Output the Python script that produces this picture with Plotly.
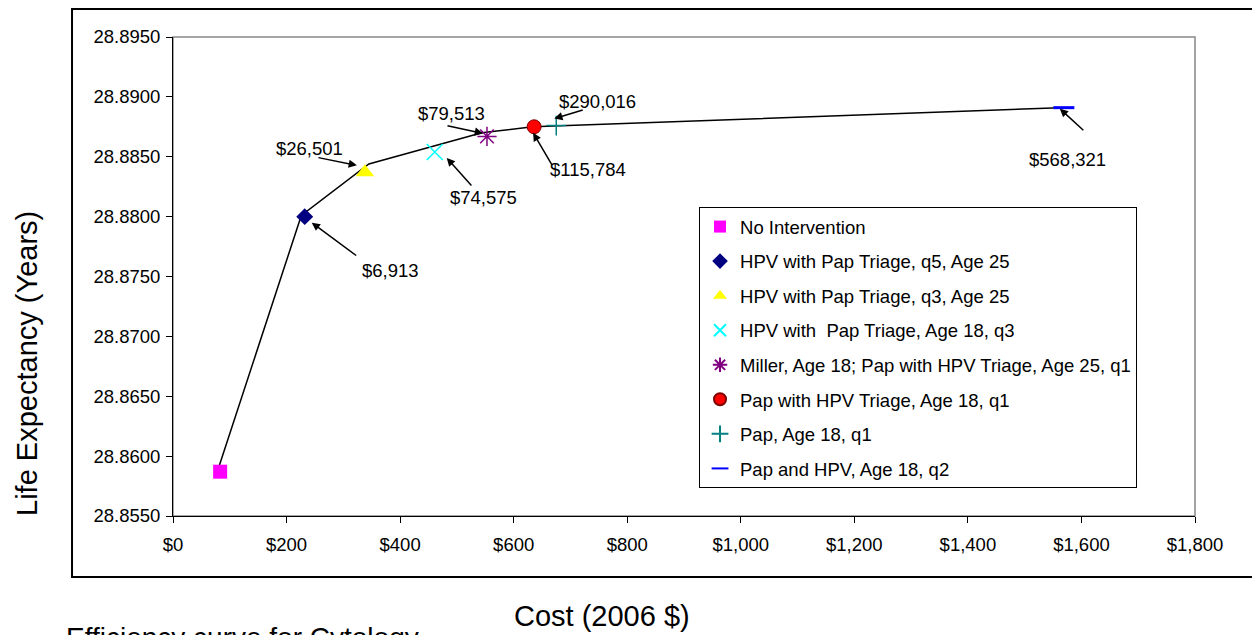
import plotly.graph_objects as go

# ---- data ----
strategies = [
    "No Intervention",
    "HPV with Pap Triage, q5, Age 25",
    "HPV with Pap Triage, q3, Age 25",
    "HPV with  Pap Triage, Age 18, q3",
    "Miller, Age 18; Pap with HPV Triage, Age 25, q1",
    "Pap with HPV Triage, Age 18, q1",
    "Pap, Age 18, q1",
    "Pap and HPV, Age 18, q2",
]
cost = [83, 232, 338, 461, 553, 636, 675, 1569]
life_exp = [28.8587, 28.8800, 28.8837, 28.8854, 28.8867, 28.8875, 28.8876, 28.8891]

frontier_cost = [78, 226, 345, 544, 634, 1562]
frontier_le = [28.8587, 28.8801, 28.8844, 28.8870, 28.8875, 28.8891]

icer_labels = ["$6,913", "$26,501", "$74,575", "$79,513", "$115,784", "$290,016", "$568,321"]
icer_point = [1, 2, 3, 4, 5, 6, 7]

x_ticks = [0, 200, 400, 600, 800, 1000, 1200, 1400, 1600, 1800]
x_tick_text = ["$0", "$200", "$400", "$600", "$800", "$1,000", "$1,200", "$1,400", "$1,600", "$1,800"]
y_ticks = [28.855, 28.860, 28.865, 28.870, 28.875, 28.880, 28.885, 28.890, 28.895]

# ---- styles ----
symbols = ["square", "diamond", "triangle-up", "x-thin", "asterisk", "circle", "cross-thin", "line-ew"]
colors = ["#FF00FF", "#000080", "#FFFF00", "#00FFFF", "#800080", "#FF0000", "#008080", "#0000FF"]
sizes = [14, 13, 16, 16, 16, 14, 14, 15]

# arrow: head shift (dx, dy down), tail offset from head (ax, ay down); text offset (dx, dy down)
arrow_head = [(7, 6), (-8, -7), (12, 6), (-4, -3), (-1, 6), (-2, -7), (-4, 1)]
arrow_tail = [(46, 34), (-40, -8), (26, 29), (-37, -8), (20, 34), (30, -9), (25, 23)]
text_off = [(86, 54), (-55, -24), (49, 46), (-35, -23), (54, 43), (41, -24), (4, 52)]

FONT = "Liberation Sans, Arial, Helvetica, sans-serif"

fig = go.Figure()

fig.add_trace(go.Scatter(
    x=frontier_cost, y=frontier_le, mode="lines",
    line=dict(color="black", width=1.5), showlegend=False, hoverinfo="skip",
))

for i, name in enumerate(strategies):
    sym = symbols[i]
    open_sym = sym in ("x-thin", "asterisk", "cross-thin", "line-ew")
    marker = dict(symbol=sym, size=sizes[i], color=colors[i])
    if open_sym:
        marker["line"] = dict(color=colors[i], width=3 if sym == "line-ew" else 1.5)
    elif sym == "circle":
        marker["line"] = dict(color="#800000", width=1)
    else:
        marker["line"] = dict(width=0)
    fig.add_trace(go.Scatter(
        x=[cost[i]], y=[life_exp[i]], mode="markers", name=name,
        marker=marker, legendgroup=f"g{i}",
    ))

annotations = []
for k, lab in enumerate(icer_labels):
    p = icer_point[k]
    hx, hy = arrow_head[k]
    tx, ty = arrow_tail[k]
    annotations.append(dict(
        x=cost[p], y=life_exp[p], xref="x", yref="y",
        xshift=hx, yshift=-hy, ax=tx, ay=ty, axref="pixel", ayref="pixel",
        text="", showarrow=True, arrowhead=2, arrowsize=1.1, arrowwidth=1.5,
        arrowcolor="black",
    ))
    ox, oy = text_off[k]
    annotations.append(dict(
        x=cost[p], y=life_exp[p], xref="x", yref="y",
        xshift=ox, yshift=-oy, text=lab, showarrow=False,
        font=dict(family=FONT, size=18.5, color="black"),
        xanchor="center", yanchor="middle",
    ))

# axis titles and caption
annotations.append(dict(text="Cost (2006 $)", xref="paper", yref="paper",
                        x=0.4198, y=-0.2088, showarrow=False,
                        xanchor="center", yanchor="middle",
                        font=dict(family=FONT, size=29, color="black")))
annotations.append(dict(text="Life Expectancy (Years)", xref="paper", yref="paper",
                        x=-0.1429, y=0.3194, showarrow=False, textangle=-90,
                        xanchor="center", yanchor="middle",
                        font=dict(family=FONT, size=29, color="black")))
annotations.append(dict(text="Efficiency curve for Cytology", xref="paper", yref="paper",
                        x=-0.1067, y=-0.2171, showarrow=False,
                        xanchor="left", yanchor="top",
                        font=dict(family=FONT, size=28, color="black")))

shapes = [
    dict(type="rect", xref="paper", yref="paper", x0=0, x1=1, y0=0, y1=1,
         line=dict(color="#888888", width=1.5), layer="below"),
    dict(type="rect", xref="paper", yref="paper", x0=-0.0988, x1=1.0685,
         y0=-0.1273, y1=1.0585, line=dict(color="black", width=2), layer="below"),
]

fig.update_layout(
    width=1252, height=627,
    margin=dict(l=165, r=65, t=29, b=119),
    paper_bgcolor="white", plot_bgcolor="white",
    font=dict(family=FONT, size=18, color="black"),
    showlegend=True,
    legend=dict(x=0.5147, y=0.645, xanchor="left", yanchor="top",
                bordercolor="black", borderwidth=1, bgcolor="white",
                font=dict(family=FONT, size=18.5, color="black"),
                tracegroupgap=7.5, itemsizing="constant", traceorder="grouped"),
    annotations=annotations,
    shapes=shapes,
    xaxis=dict(range=[0, 1800], tickvals=x_ticks, ticktext=x_tick_text,
               showgrid=False, zeroline=False, showline=True, linecolor="black",
               linewidth=1, ticks="outside", ticklen=6, tickcolor="black",
               tickfont=dict(family=FONT, size=18.5), ticklabelstandoff=6),
    yaxis=dict(range=[28.855, 28.895], tickvals=y_ticks, tickformat=".4f",
               showgrid=False, zeroline=False, showline=True, linecolor="black",
               linewidth=1, ticks="outside", ticklen=6, tickcolor="black",
               tickfont=dict(family=FONT, size=18.5), ticklabelstandoff=2),
)

fig.write_html("out.html")
